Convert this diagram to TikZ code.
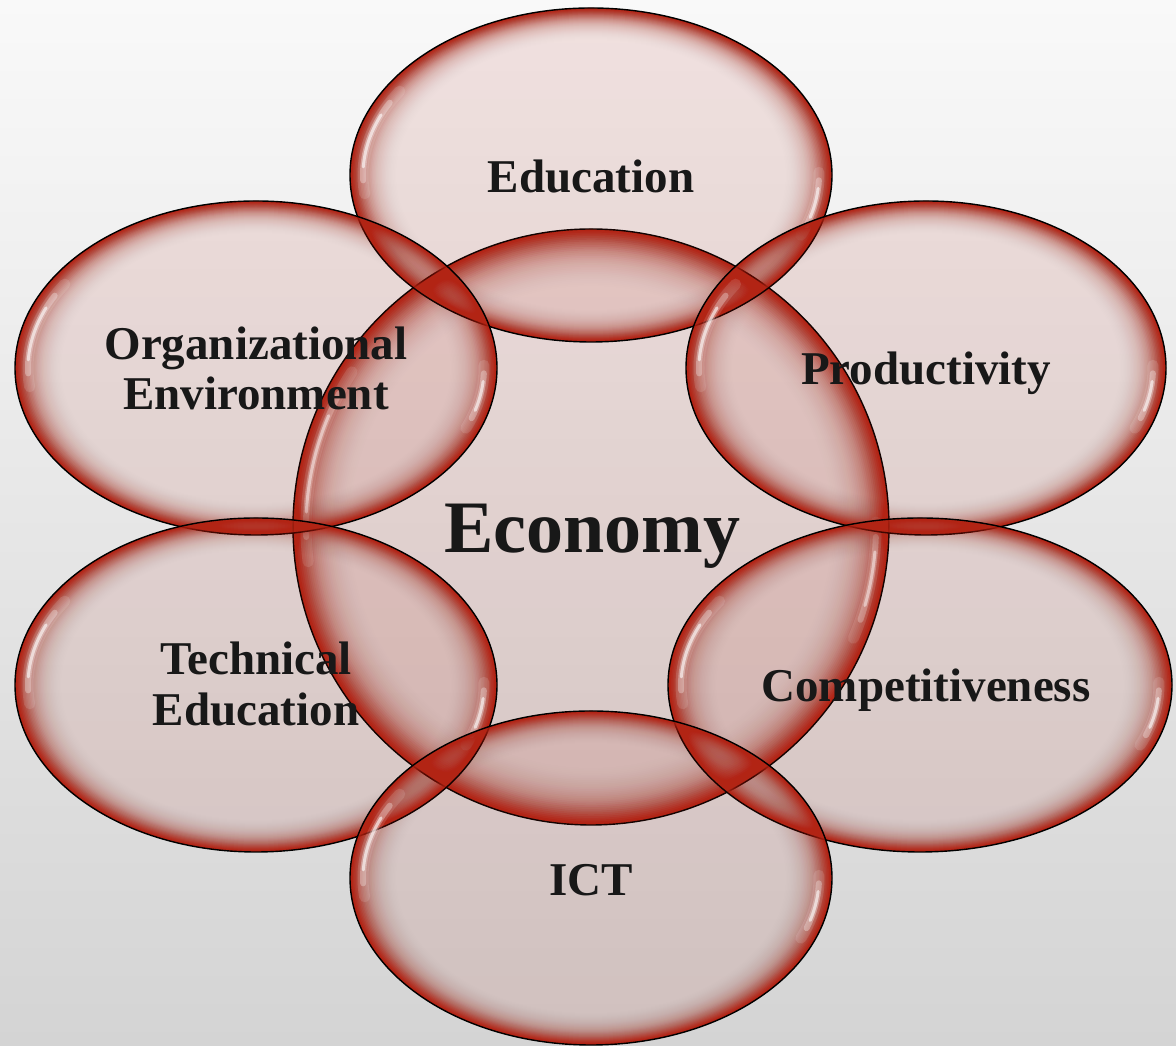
\documentclass[tikz,border=0pt]{standalone}
\usepackage{fontspec}
\setmainfont{Liberation Serif}
\definecolor{rimred}{RGB}{178,36,20}
\definecolor{inkc}{RGB}{24,24,24}
\definecolor{bgtop}{RGB}{249,249,249}
\definecolor{bgbot}{RGB}{212,212,212}
\tikzset{
  lbl/.style={font=\fontsize{47}{52}\selectfont\bfseries, text=inkc, inner sep=0pt, anchor=base},
  biglbl/.style={font=\fontsize{74}{80}\selectfont\bfseries, text=inkc, inner sep=0pt, anchor=base},
  rimline/.style={draw=black, line width=1.4pt},
  gloss/.style={draw=white, line cap=round},
}
\newcommand\glossarc[7]{% x y rx ry start end inset
  \draw[gloss] (#1,#2) ++(#5:{#3-#7} and {#4-#7}) arc[start angle=#5, end angle=#6, x radius={#3-#7}, y radius={#4-#7}];
}
\newcommand\mybubble[4]{%
  \fill[rimred, fill opacity=0.11] (#1,#2) ellipse [x radius=#3, y radius=#4];
  \foreach \k [evaluate=\k as \op using {0.36*exp(-\k/7)}, evaluate=\k as \s using {1-0.006*\k}] in {1,...,32} {
    \fill[rimred, fill opacity=\op, even odd rule] (#1,#2) ellipse [x radius=#3, y radius=#4]
      (#1,#2) ellipse [x radius={#3*\s}, y radius={#4*\s}];
  }
  \begin{scope}[gloss/.append style={line width=11pt, draw opacity=0.12}]
    \glossarc{#1}{#2}{#3}{#4}{147}{187}{13}
    \glossarc{#1}{#2}{#3}{#4}{337}{361}{13}
  \end{scope}
  \begin{scope}[gloss/.append style={line width=6pt, draw opacity=0.3}]
    \glossarc{#1}{#2}{#3}{#4}{152}{182}{13}
    \glossarc{#1}{#2}{#3}{#4}{341}{358}{13}
  \end{scope}
  \begin{scope}[gloss/.append style={line width=3pt, draw opacity=0.6}]
    \glossarc{#1}{#2}{#3}{#4}{157}{177}{13}
    \glossarc{#1}{#2}{#3}{#4}{344}{355}{13}
  \end{scope}
  \draw[rimline] (#1,#2) ellipse [x radius=#3, y radius=#4];
}
\begin{document}
\begin{tikzpicture}[x=1pt,y=1pt]
\useasboundingbox (0,0) rectangle (1176,1046);
\shade[top color=bgtop, bottom color=bgbot] (0,0) rectangle (1176,1046);

% centre
\mybubble{591}{519}{298}{298}
% surrounding
\mybubble{591}{871}{241}{167}
\mybubble{256}{678}{241}{167}
\mybubble{926}{678}{240}{167}
\mybubble{256}{361}{241}{167}
\mybubble{920}{361}{252}{167}
\mybubble{591}{168}{241}{167}

% labels
\node[biglbl] (economy) at (592,493) {Economy};
\node[lbl] (education) at (591,853) {Education};
\node[lbl] (org1) at (256,686) {Organizational};
\node[lbl] (org2) at (256,636) {Environment};
\node[lbl] (productivity) at (926,661) {Productivity};
\node[lbl] (tech1) at (256,371) {Technical};
\node[lbl] (tech2) at (256,320) {Education};
\node[lbl] (competitiveness) at (926,344) {Competitiveness};
\node[lbl] (ict) at (591,150) {ICT};
\end{tikzpicture}
\end{document}
